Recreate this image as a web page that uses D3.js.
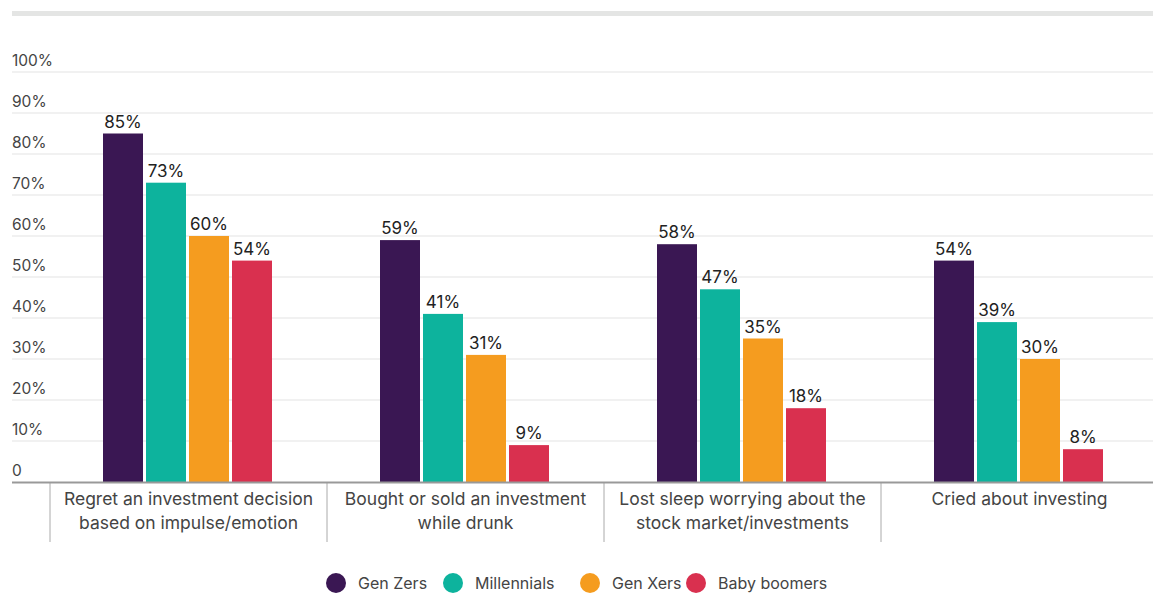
<!DOCTYPE html>
<html><head><meta charset="utf-8">
<script src="https://cdn.jsdelivr.net/npm/d3@7"></script>
<style>body{margin:0;background:#fff;} svg{display:block;font-family:Inter, "Open Sans", sans-serif;}</style>
</head><body>
<svg id="c" width="1153" height="593"></svg>
<script>
const categories = [
  ["Regret an investment decision", "based on impulse/emotion"],
  ["Bought or sold an investment", "while drunk"],
  ["Lost sleep worrying about the", "stock market/investments"],
  ["Cried about investing"]
];
const seriesNames = ["Gen Zers", "Millennials", "Gen Xers", "Baby boomers"];
const genZ = [85, 59, 58, 54];
const millennials = [73, 41, 47, 39];
const genX = [60, 31, 35, 30];
const boomers = [54, 9, 18, 8];
const yTicks = [0, 10, 20, 30, 40, 50, 60, 70, 80, 90, 100];
const colors = ["#3a1753", "#0db39d", "#f59c1f", "#d9304f"];

const series = [genZ, millennials, genX, boomers];
const svg = d3.select("#c");
const y = d3.scaleLinear().domain([0, 100]).range([482, 72]);
const x0 = d3.scaleBand().domain(d3.range(categories.length)).range([50, 1158]).paddingInner(0).paddingOuter(0);
const x1 = d3.scaleBand().domain(d3.range(series.length)).range([53, 222]).paddingInner(3 / 43);

// top band
svg.append("rect").attr("x", 12).attr("y", 11).attr("width", 1141).attr("height", 5).attr("fill", "#e4e5e4");

// gridlines
svg.append("g").selectAll("line").data(yTicks.filter(d => d > 0)).join("line")
  .attr("x1", 12).attr("x2", 1153).attr("y1", d => y(d)).attr("y2", d => y(d))
  .attr("stroke", "#ececec").attr("stroke-width", 1.5);
// tick labels
svg.append("g").selectAll("text").data(yTicks).join("text")
  .attr("x", 12).attr("y", d => y(d) - 6)
  .attr("font-size", 15.5).attr("fill", "#444")
  .text(d => d === 0 ? "0" : d + "%");

// bars
const groups = svg.append("g").selectAll("g").data(categories).join("g")
  .attr("transform", (d, i) => `translate(${x0(i)},0)`);
groups.each(function(c, ci) {
  const g = d3.select(this);
  series.forEach((s, si) => {
    g.append("rect").attr("x", x1(si)).attr("width", x1.bandwidth())
      .attr("y", y(s[ci])).attr("height", y(0) - y(s[ci])).attr("fill", colors[si]);
    g.append("text").attr("x", x1(si) + x1.bandwidth() / 2).attr("y", y(s[ci]) - 6)
      .attr("text-anchor", "middle").attr("font-size", 17).attr("fill", "#222")
      .text(s[ci] + "%");
  });
  // category label
  const t = g.append("text").attr("text-anchor", "middle").attr("font-size", 17.5).attr("fill", "#444");
  c.forEach((line, li) => {
    t.append("tspan").attr("x", x0.bandwidth() / 2).attr("y", 505 + li * 24).text(line);
  });
});

// separators
svg.append("g").selectAll("line").data(d3.range(categories.length)).join("line")
  .attr("x1", i => x0(i)).attr("x2", i => x0(i)).attr("y1", 482).attr("y2", 542)
  .attr("stroke", "#aaa").attr("stroke-width", 1);
// axis line
svg.append("line").attr("x1", 12).attr("x2", 1153).attr("y1", 482.5).attr("y2", 482.5)
  .attr("stroke", "#999").attr("stroke-width", 2);

// legend
const legX = [336, 453, 590, 696];
const leg = svg.append("g").selectAll("g").data(seriesNames).join("g")
  .attr("transform", (d, i) => `translate(${legX[i]},583)`);
leg.append("circle").attr("r", 10).attr("fill", (d, i) => colors[i]);
leg.append("text").attr("x", 22).attr("y", 6).attr("font-size", 16).attr("fill", "#444").text(d => d);
</script>
</body></html>
